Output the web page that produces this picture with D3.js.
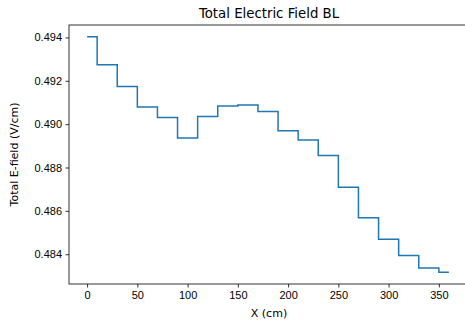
<!DOCTYPE html>
<html>
<head>
<meta charset="utf-8">
<script src="https://cdn.jsdelivr.net/npm/d3@7"></script>
<style>
  body { margin: 0; background: #fff; }
  svg { display: block; font-family: "DejaVu Sans", sans-serif; }
  .axis text { font-size: 11px; fill: #000; }
  .axis path, .axis line { stroke: #000; stroke-width: 0.8; }
</style>
</head>
<body>
<div id="chart-area"></div>
<script>
// positions along the beam (cm)
var xPos = [0, 20, 40, 60, 80, 100, 120, 140, 160, 180, 200, 220, 240, 260, 280, 300, 320, 340, 360];
// total electric field (V/cm)
var eField = [0.49403, 0.49274, 0.49174, 0.49079, 0.49031, 0.48936, 0.49035, 0.49084, 0.49088,
    0.49058, 0.48969, 0.48927, 0.48855, 0.48709, 0.48568, 0.48469, 0.48394, 0.48337, 0.48317];
var xTicks = [0, 50, 100, 150, 200, 250, 300, 350];
var yTicks = [0.484, 0.486, 0.488, 0.490, 0.492, 0.494];

var data = xPos.map(function(x, i) { return {x: x, e: eField[i]}; });

var margin = {top: 25, right: -2, bottom: 38, left: 69},
    width = 465 - margin.left - margin.right,
    height = 322 - margin.top - margin.bottom;

var svg = d3.select("#chart-area").append("svg")
    .attr("width", 465)
    .attr("height", 322);

var g = svg.append("g")
    .attr("transform", "translate(" + margin.left + "," + margin.top + ")");

// matplotlib-style 5% padding
var xExt = d3.extent(data, function(d) { return d.x; });
var yExt = d3.extent(data, function(d) { return d.e; });
var xPad = (xExt[1] - xExt[0]) * 0.05,
    yPad = (yExt[1] - yExt[0]) * 0.05;

var x = d3.scaleLinear().domain([xExt[0] - xPad, xExt[1] + xPad]).range([0, width]);
var y = d3.scaleLinear().domain([yExt[0] - yPad, yExt[1] + yPad]).range([height, 0]);

g.append("path")
    .datum(data)
    .attr("fill", "none")
    .attr("stroke", "#1f77b4")
    .attr("stroke-width", 1.5)
    .attr("d", d3.line()
        .curve(d3.curveStep)
        .x(function(d) { return x(d.x); })
        .y(function(d) { return y(d.e); }));

// frame
g.append("rect")
    .attr("width", width)
    .attr("height", height)
    .attr("fill", "none")
    .attr("stroke", "#000")
    .attr("stroke-width", 0.8);

g.append("g")
    .attr("class", "axis")
    .attr("transform", "translate(0," + height + ")")
    .call(d3.axisBottom(x).tickValues(xTicks).tickSize(3.5).tickPadding(3.5).tickSizeOuter(0));

g.append("g")
    .attr("class", "axis")
    .call(d3.axisLeft(y).tickValues(yTicks).tickFormat(d3.format(".3f")).tickSize(3.5).tickPadding(3.5).tickSizeOuter(0));

g.selectAll(".axis .domain").remove();

svg.append("text")
    .attr("x", margin.left + width / 2 + 1)
    .attr("y", 18)
    .attr("text-anchor", "middle")
    .attr("font-size", 13.3)
    .text("Total Electric Field BL");

svg.append("text")
    .attr("x", margin.left + width / 2 + 1)
    .attr("y", 317)
    .attr("text-anchor", "middle")
    .attr("font-size", 11)
    .text("X (cm)");

svg.append("text")
    .attr("transform", "translate(18," + (margin.top + height / 2) + ") rotate(-90)")
    .attr("text-anchor", "middle")
    .attr("font-size", 11)
    .text("Total E-field (V/cm)");
</script>
</body>
</html>
